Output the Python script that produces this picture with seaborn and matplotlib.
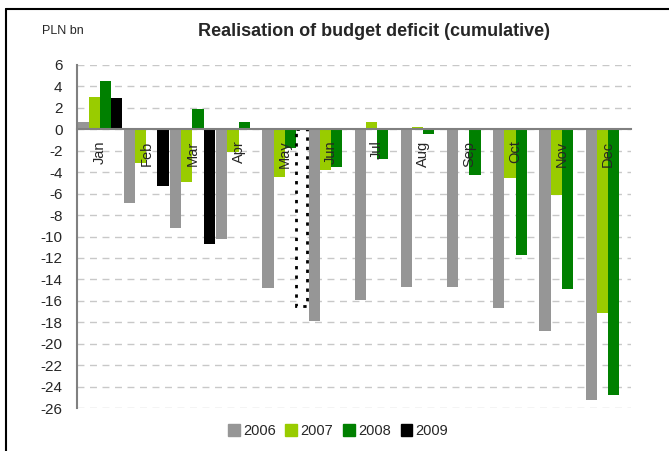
import numpy as np
import pandas as pd
import matplotlib
matplotlib.use("Agg")
import matplotlib.pyplot as plt
from matplotlib.lines import Line2D
import seaborn as sns

months = ["Jan", "Feb", "Mar", "Apr", "May", "Jun", "Jul", "Aug", "Sep", "Oct", "Nov", "Dec"]
years = ["2006", "2007", "2008", "2009"]
v2006 = [0.7, -6.9, -9.2, -10.2, -14.8, -17.9, -15.9, -14.7, -14.7, -16.7, -18.8, -25.3]
v2007 = [3.0, -3.15, -4.9, -2.1, -4.45, -3.8, 0.65, 0.2, 0.1, -4.55, -6.15, -17.1]
v2008 = [4.5, 0.0, 1.9, 0.7, -1.75, -3.5, -2.8, -0.45, -4.3, -11.75, -14.9, -24.75]
v2009 = [2.9, -5.3, -10.7, None, -16.5, None, None, None, None, None, None, None]
colors = ["#969696", "#99cc00", "#008000", "#000000"]

rows = []
for yr, vals in zip(years, [v2006, v2007, v2008, v2009]):
    for m, v in zip(months, vals):
        if v is not None:
            rows.append({"month": m, "year": yr, "value": v})
df = pd.DataFrame(rows)

sns.set_style("white")
plt.rcParams["font.family"] = ["Liberation Sans", "DejaVu Sans"]
plt.rcParams["axes.unicode_minus"] = False

fig = plt.figure(figsize=(6.69, 4.51), dpi=100)
ax = fig.add_axes([77 / 669, 1 - 408 / 451, (631 - 77) / 669, (408 - 65) / 451])

sns.barplot(data=df, x="month", y="value", hue="year", order=months,
            hue_order=years, palette=colors, width=0.97, ax=ax,
            errorbar=None, legend=True, linewidth=0, saturation=1)

# May 2009 is an estimate: dotted outline
for bar in ax.containers[3]:
    if abs(bar.get_x() + bar.get_width() / 2 - 4.36) < 0.2:
        bar.set_facecolor("white")
        bar.set_edgecolor("black")
        bar.set_linestyle((0, (1.2, 2.2)))
        bar.set_linewidth(2)

ax.set_ylim(-26, 6)
ax.set_xlim(-0.5, 11.5)
ax.set_yticks(np.arange(-26, 7, 2))
ax.set_xticks(np.arange(-0.5, 12, 1))
ax.set_xticklabels([])
ax.set_xlabel("")
ax.set_ylabel("")
ax.yaxis.grid(True, color="#c8c8c8", linestyle=(0, (5, 4)), linewidth=1)
ax.set_axisbelow(True)
for s in ["top", "right"]:
    ax.spines[s].set_visible(False)
ax.spines["bottom"].set_position(("data", 0))
ax.spines["bottom"].set_color("#808080")
ax.spines["left"].set_color("#808080")
ax.spines["left"].set_linewidth(1.5)
ax.spines["bottom"].set_linewidth(1.5)
ax.tick_params(axis="y", direction="out", length=4.5, color="#808080", pad=6, labelsize=11)
ax.tick_params(axis="x", direction="out", length=4, color="#808080")

for i, m in enumerate(months):
    ax.text(i, -1.05, m, rotation=90, ha="center", va="top", fontsize=10.5)

ax.get_legend().remove()
handles = [plt.Rectangle((0, 0), 1, 1, color=c) for c in colors]
fig.legend(handles, years, loc="center", bbox_to_anchor=(338 / 669, 1 - 431 / 451),
           ncol=4, frameon=False, fontsize=10.5,
           handlelength=0.82, handleheight=0.82, handletextpad=0.2, columnspacing=0.68)

fig.text(374 / 669, 1 - 31 / 451, "Realisation of budget deficit (cumulative)",
         ha="center", va="center", fontsize=13, fontweight="bold")
fig.text(42 / 669, 1 - 31 / 451, "PLN bn", ha="left", va="center", fontsize=9)

# outer frame
fig.add_artist(Line2D([6 / 669, 6 / 669], [0, 1 - 9 / 451], color="black", lw=1.5))
fig.add_artist(Line2D([6 / 669, 1], [1 - 9 / 451, 1 - 9 / 451], color="black", lw=1.5))

fig.savefig("out.png", dpi=100)
